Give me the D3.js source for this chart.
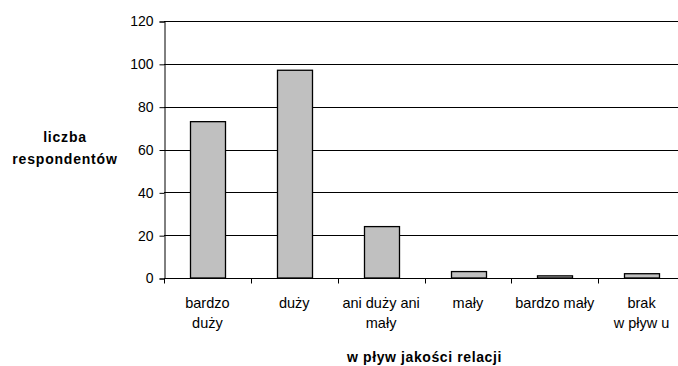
<!DOCTYPE html>
<html>
<head>
<meta charset="utf-8">
<script src="https://cdn.jsdelivr.net/npm/d3@7/dist/d3.min.js"></script>
<style>
  html, body { margin: 0; padding: 0; background: #fff; }
  svg { display: block; }
  text { font-family: "Liberation Sans", Arial, sans-serif; fill: #000; }
</style>
</head>
<body>
<script>
// Survey answers: how strongly relationship quality influences the decision
const categories = [["bardzo", "duży"], ["duży"], ["ani duży ani", "mały"], ["mały"], ["bardzo mały"], ["brak", "w pływ u"]];
const values = [73, 97, 24, 3, 1, 2];
const yTicks = [0, 20, 40, 60, 80, 100, 120];
const yTitle = ["liczba", "respondentów"];
const xTitle = "w pływ jakości relacji";

(function drawChart() {
  const W = 678, H = 366;
  const svg = d3.select("body").append("svg").attr("width", W).attr("height", H);

  const plotL = 164, plotR = 685, plotT = 21, plotB = 278;
  const keys = categories.map((c, i) => i);

  const x = d3.scaleBand().domain(keys).range([plotL, plotR]).paddingInner(0.6).paddingOuter(0.3);
  const xCat = d3.scaleBand().domain(keys).range([plotL, plotR]);
  const y = d3.scaleLinear().domain([0, 120]).range([plotB, plotT]);

  // horizontal gridlines
  svg.append("g").selectAll("line").data(yTicks.filter(t => t > 0)).join("line")
    .attr("x1", plotL).attr("x2", plotR)
    .attr("y1", d => Math.round(y(d)) + 0.5).attr("y2", d => Math.round(y(d)) + 0.5)
    .attr("stroke", "#000").attr("stroke-width", 1);

  // bars
  svg.append("g").selectAll("rect").data(values).join("rect")
    .attr("x", (d, i) => Math.round(x(i)) + 0.5)
    .attr("width", Math.round(x.bandwidth()))
    .attr("y", d => y(d))
    .attr("height", d => plotB - y(d))
    .attr("fill", "#c0c0c0").attr("stroke", "#000").attr("stroke-width", 1.3);

  // y axis
  const yAxis = d3.axisLeft(y).tickValues(yTicks).tickSize(5).tickPadding(6);
  const gy = svg.append("g").attr("transform", `translate(${plotL + 0.5},0.5)`).call(yAxis);
  gy.selectAll("text").style("font-size", "14px").attr("dy", "0.32em");
  gy.select(".domain").attr("stroke", "#000");
  gy.selectAll(".tick line").attr("stroke", "#000");

  // x axis: ticks at category boundaries
  const gx = svg.append("g").attr("transform", `translate(0,${plotB + 0.5})`);
  gx.append("line").attr("x1", plotL).attr("x2", plotR).attr("stroke", "#000");
  gx.selectAll("line.tk").data(d3.range(categories.length + 1)).join("line").attr("class", "tk")
    .attr("x1", i => Math.round(plotL + i * xCat.step()) + 0.5)
    .attr("x2", i => Math.round(plotL + i * xCat.step()) + 0.5)
    .attr("y1", 0).attr("y2", 5).attr("stroke", "#000");

  // category labels
  const lab = svg.append("g").selectAll("text").data(categories).join("text")
    .attr("text-anchor", "middle").style("font-size", "14.5px");
  lab.selectAll("tspan").data((d, i) => d.map(s => ({ s, i }))).join("tspan")
    .attr("x", d => xCat(d.i) + xCat.bandwidth() / 2)
    .attr("y", (d, j) => 308 + j * 19.5)
    .text(d => d.s);

  // axis titles
  svg.append("text").attr("x", (plotL + plotR) / 2).attr("y", 362)
    .attr("text-anchor", "middle").style("font-size", "14px").style("font-weight", "bold")
    .style("letter-spacing", "0.6px").text(xTitle);

  svg.append("g").selectAll("text").data(yTitle).join("text")
    .attr("x", 65).attr("y", (d, i) => 142 + i * 22)
    .attr("text-anchor", "middle").style("font-size", "14px").style("font-weight", "bold")
    .style("letter-spacing", "0.8px").text(d => d);
})();
</script>
</body>
</html>
